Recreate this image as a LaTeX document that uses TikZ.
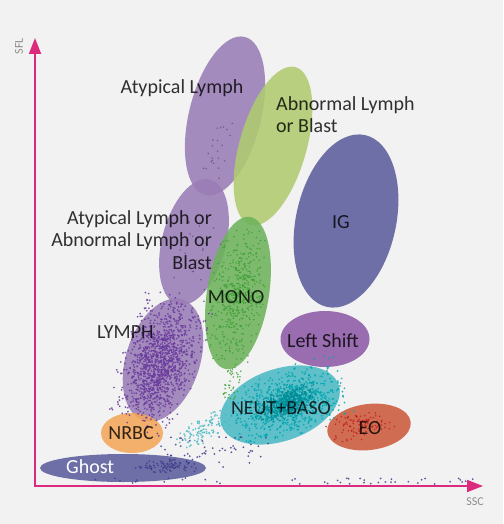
\documentclass[tikz,border=0pt]{standalone}
\usepackage{fontspec}
\setmainfont{Carlito}
\usetikzlibrary{shapes.geometric,arrows.meta}
\definecolor{bggrey}{HTML}{F2F2F2}
\definecolor{axispink}{HTML}{DC2A7E}
\definecolor{lymphpurple}{HTML}{9A7DB6}
\definecolor{lymphdot}{HTML}{6A3A9C}
\definecolor{blastgreen}{HTML}{AFCB6F}
\definecolor{igblue}{HTML}{5E5E9E}
\definecolor{ghostdot}{HTML}{3E3E8C}
\definecolor{monogreen}{HTML}{6DB35B}
\definecolor{monodot}{HTML}{3FA037}
\definecolor{shiftpurple}{HTML}{8D5BA8}
\definecolor{neutcyan}{HTML}{4CBAC4}
\definecolor{neutdot}{HTML}{00A6B2}
\definecolor{eored}{HTML}{CC5A3C}
\definecolor{eodot}{HTML}{C0221E}
\definecolor{nrbcorange}{HTML}{F4A65A}
\tikzset{
  blob/.style = {ellipse, inner sep=0pt, fill opacity=0.88},
  lbl/.style = {inner sep=0pt, text=black, text opacity=0.8,
    font=\fontsize{20}{22.5}\selectfont},
  axislabel/.style = {inner sep=0pt, text=black!45,
    font=\fontsize{12}{14}\selectfont},
  axis/.style = {line width=1.8pt, axispink,
    {Triangle[length=16pt,width=12pt]}-{Triangle[length=16pt,width=12pt]}},
  speck/.style = {fill opacity=0.85}
}
\tikzset{>=latex}

\begin{document}
\begin{tikzpicture}[x=1pt,y=-1pt]
  \fill[bggrey] (0,0) rectangle (503,524);
  \useasboundingbox (0,0) rectangle (503,524);
  \pgfmathsetseed{17}

  % populations
  \node[blob, fill=lymphpurple, minimum width=163pt, minimum height=72pt, rotate=76] (atyplymph) at (225,116) {};
  \node[blob, fill=blastgreen, minimum width=164pt, minimum height=67pt, rotate=74] (blast) at (273,146) {};
  \node[blob, fill=igblue, minimum width=176pt, minimum height=100pt, rotate=77.5] (ig) at (346,221) {};
  \node[blob, fill=lymphpurple, minimum width=129pt, minimum height=64pt, rotate=75.6] (mixed) at (194,242) {};
  \node[blob, fill=monogreen, minimum width=154pt, minimum height=62pt, rotate=81] (mono) at (238,293) {};
  \node[blob, fill=lymphpurple, minimum width=127pt, minimum height=74pt, rotate=72] (lymph) at (163,360) {};
  \node[blob, fill=shiftpurple, minimum width=89pt, minimum height=56pt] (leftshift) at (325,339) {};
  \node[blob, fill=neutcyan, minimum width=124pt, minimum height=72pt, rotate=19] (neut) at (280,405) {};
  \node[blob, fill=eored, minimum width=84pt, minimum height=46pt, rotate=7] (eo) at (369,427) {};
  \node[blob, fill=nrbcorange, minimum width=62pt, minimum height=40pt] (nrbc) at (132,433) {};
  \node[blob, fill=igblue, minimum width=166pt, minimum height=28pt] (ghost) at (123,468) {};

  % events
  \begin{scope}[shift={(160,362)},rotate=72]
    \foreach \k in {1,...,1100}
      \fill[speck, lymphdot] ({80*(rand+rand+rand)/3},{44*(rand+rand+rand)/3}) circle (1);
    \foreach \k in {1,...,150}
      \fill[speck, lymphdot] ({62*rand},{36*rand}) circle (1);
  \end{scope}
  \begin{scope}[shift={(238,295)},rotate=81]
    \foreach \k in {1,...,500}
      \fill[speck, monodot] ({72*(rand+rand)/2},{28*(rand+rand)/2}) circle (0.9);
  \end{scope}
  \begin{scope}[shift={(232,383)},rotate=80]
    \foreach \k in {1,...,40}
      \fill[speck, monodot] ({16*rand},{7*rand}) circle (0.9);
  \end{scope}
  \begin{scope}[shift={(288,403)},rotate=19]
    \foreach \k in {1,...,700}
      \fill[speck, neutdot] ({64*(rand+rand)/2},{35*(rand+rand)/2}) circle (1);
    \foreach \k in {1,...,500}
      \fill[speck, black!15!neutdot] ({40*(rand+rand+rand)/3},{20*(rand+rand+rand)/3}) circle (1);
  \end{scope}
  \begin{scope}[shift={(205,430)},rotate=25]
    \foreach \k in {1,...,110}
      \fill[speck, neutcyan] ({30*(rand+rand)/2},{15*(rand+rand)/2}) circle (1);
  \end{scope}
  \begin{scope}[shift={(360,426)},rotate=7]
    \foreach \k in {1,...,110}
      \fill[speck, eodot] ({36*(rand+rand)/2},{15*(rand+rand)/2}) circle (0.9);
  \end{scope}
  \begin{scope}[shift={(215,452)}]
    \foreach \k in {1,...,60}
      \fill[speck, ghostdot] ({55*rand},{16*rand}) circle (1);
  \end{scope}
  \begin{scope}[shift={(168,466)}]
    \foreach \k in {1,...,80}
      \fill[speck, ghostdot] ({36*(rand+rand)/2},{8*(rand+rand)/2}) circle (1);
  \end{scope}
  \begin{scope}[shift={(218,150)},rotate=76]
    \foreach \k in {1,...,22}
      \fill[speck, black!30!lymphpurple] ({30*rand},{10*rand}) circle (0.9);
  \end{scope}
  \begin{scope}[shift={(200,262)},rotate=75]
    \foreach \k in {1,...,25}
      \fill[speck, black!30!lymphpurple] ({45*rand},{24*rand}) circle (0.9);
  \end{scope}
  \foreach \k in {1,...,45}
    \fill[speck, ghostdot] ({285+195*rand},{481+3*rand}) circle (1);

  % axes
  \coordinate (origin) at (35,486);
  \coordinate (sfltip) at (35,38);
  \coordinate (ssctip) at (483,486);
  \draw[axis] (sfltip) -- (origin) -- (ssctip);
  \node[axislabel, rotate=90] (sfl) at (19,46) {SFL};
  \node[axislabel] (ssc) at (475,502) {SSC};

  % labels
  \node[lbl, anchor=base] (atyplbl) at (182,94) {Atypical Lymph};
  \node[lbl, anchor=north west, align=left] (blastlbl) at (276,96) {Abnormal Lymph\\or Blast};
  \node[lbl, anchor=base] (iglbl) at (341,228) {IG};
  \node[lbl, anchor=north east, align=right] (mixedlbl) at (212,210) {Atypical Lymph or\\Abnormal Lymph or\\Blast};
  \node[lbl, anchor=base] (monolbl) at (236,303) {MONO};
  \node[lbl, anchor=base west] (lymphlbl) at (97,338) {LYMPH};
  \node[lbl, anchor=base] (shiftlbl) at (323,347) {Left Shift};
  \node[lbl, anchor=base] (neutlbl) at (281,414) {NEUT+BASO};
  \node[lbl, anchor=base] (eolbl) at (370,434) {EO};
  \node[lbl, anchor=base] (nrbclbl) at (131,439) {NRBC};
  \node[lbl, anchor=base west, text=white, text opacity=1] (ghostlbl) at (66,473) {Ghost};
\end{tikzpicture}
\end{document}
